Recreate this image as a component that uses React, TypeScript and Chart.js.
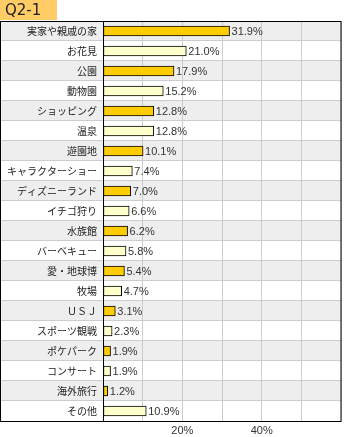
import React, { useEffect, useRef } from "react";
import { Chart, registerables } from "chart.js";

Chart.register(...registerables);

const chartTitle = "Q2-1";
const categories = [
  "実家や親戚の家",
  "お花見",
  "公園",
  "動物園",
  "ショッピング",
  "温泉",
  "遊園地",
  "キャラクターショー",
  "ディズニーランド",
  "イチゴ狩り",
  "水族館",
  "バーベキュー",
  "愛・地球博",
  "牧場",
  "ＵＳＪ",
  "スポーツ観戦",
  "ポケパーク",
  "コンサート",
  "海外旅行",
  "その他",
];
const values = [31.9, 21.0, 17.9, 15.2, 12.8, 12.8, 10.1, 7.4, 7.0, 6.6, 6.2, 5.8, 5.4, 4.7, 3.1, 2.3, 1.9, 1.9, 1.2, 10.9];
const shownTicks = [20, 40];
const axisMax = 60;
const axisStep = 10;

const barColors = ["#FFCC00", "#FFFFCC"];
const bandColors = ["#EEEEEE", "#FFFFFF"];

export default function App() {
  const ref = useRef<HTMLCanvasElement>(null);

  useEffect(() => {
    document.body.style.margin = "0";
    const canvas = ref.current!;

    const decor = {
      id: "decor",
      beforeDraw(chart: any) {
        const ctx = chart.ctx;
        const area = chart.chartArea;
        const ys = chart.scales.y;
        const rowH = (area.bottom - area.top) / categories.length;
        ctx.save();
        ctx.fillStyle = "#FFFFFF";
        ctx.fillRect(0, 0, chart.width, chart.height);
        categories.forEach((_, i) => {
          const c = ys.getPixelForValue(i);
          ctx.fillStyle = bandColors[i % 2];
          ctx.fillRect(0, c - rowH / 2, area.right, rowH);
        });
        ctx.restore();
      },
      beforeDatasetsDraw(chart: any) {
        const ctx = chart.ctx;
        const area = chart.chartArea;
        const ys = chart.scales.y;
        const rowH = (area.bottom - area.top) / categories.length;
        ctx.save();
        ctx.strokeStyle = "#CCCCCC";
        ctx.lineWidth = 1;
        for (let i = 1; i < categories.length; i++) {
          const yy = Math.round(ys.getPixelForValue(i) - rowH / 2) - 0.5;
          ctx.beginPath();
          ctx.moveTo(0, yy);
          ctx.lineTo(area.right, yy);
          ctx.stroke();
        }
        ctx.restore();
      },
      afterDraw(chart: any) {
        const ctx = chart.ctx;
        const area = chart.chartArea;
        const ys = chart.scales.y;
        const xs = chart.scales.x;
        ctx.save();
        // borders
        ctx.strokeStyle = "#000000";
        ctx.lineWidth = 1;
        ctx.strokeRect(0.5, area.top + 0.5, area.right - 0.5, area.bottom - area.top);
        ctx.beginPath();
        ctx.moveTo(area.left + 0.5, area.top);
        ctx.lineTo(area.left + 0.5, area.bottom);
        ctx.stroke();
        // value labels
        ctx.fillStyle = "#333333";
        ctx.font = "11px 'Liberation Sans'";
        ctx.textAlign = "left";
        ctx.textBaseline = "middle";
        values.forEach((v, i) => {
          ctx.fillText(v.toFixed(1) + "%", xs.getPixelForValue(v) + 2, ys.getPixelForValue(i) + 1);
        });
        // title box
        ctx.fillStyle = "#FFCC66";
        ctx.fillRect(0, 0, 57, 20);
        ctx.fillStyle = "#222222";
        ctx.font = "15px 'DejaVu Sans'";
        ctx.textBaseline = "middle";
        ctx.fillText(chartTitle, 5, 11);
        ctx.restore();
      },
    };

    const chart = new Chart(canvas, {
      type: "bar",
      data: {
        labels: categories,
        datasets: [
          {
            data: values,
            backgroundColor: values.map((_, i) => barColors[i % 2]),
            borderColor: "#000000",
            borderWidth: 1,
            borderSkipped: false,
            barThickness: 10,
          },
        ],
      },
      options: {
        indexAxis: "y",
        responsive: false,
        animation: false,
        devicePixelRatio: 1,
        layout: { padding: { top: 21, right: 1, left: 0, bottom: 0 } },
        plugins: {
          legend: { display: false },
          tooltip: { enabled: false },
          title: { display: false },
        },
        scales: {
          x: {
            min: 0,
            max: axisMax,
            grid: { color: "#CCCCCC", drawTicks: false, lineWidth: 1 },
            border: { display: false },
            ticks: {
              stepSize: axisStep,
              padding: 3,
              color: "#333333",
              font: { family: "'Liberation Sans'", size: 11 },
              maxRotation: 0,
              autoSkip: false,
              callback: (v: any) => (shownTicks.includes(Number(v)) ? v + "%" : ""),
            },
            afterFit: (s: any) => {
              s.height = 16;
            },
          },
          y: {
            grid: { display: false, drawTicks: false },
            border: { display: false },
            ticks: {
              padding: 6,
              color: "#222222",
              font: { family: "'Noto Sans CJK JP'", size: 10 },
              autoSkip: false,
            },
            afterFit: (s: any) => {
              s.width = 103;
            },
          },
        },
      },
      plugins: [decor],
    });

    return () => chart.destroy();
  }, []);

  return <canvas ref={ref} width={344} height={437} style={{ display: "block" }} />;
}
